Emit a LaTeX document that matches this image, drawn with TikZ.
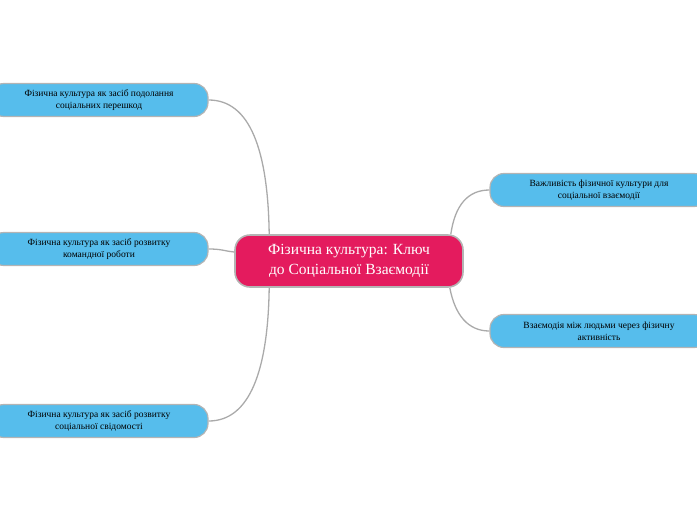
\documentclass[tikz,border=0pt]{standalone}
\usepackage{fontspec}
\setmainfont{Liberation Serif}
\definecolor{hubpink}{HTML}{E41B5E}
\definecolor{leafblue}{HTML}{56BDEC}
\definecolor{edgegray}{HTML}{AAAAAA}
\definecolor{rimgray}{HTML}{B4B4B4}
\begin{document}
\begin{tikzpicture}[x=1pt,y=-1pt,
  hub/.style={draw=rimgray, line width=1.6pt, fill=hubpink, rounded corners=15pt,
    minimum width=228pt, minimum height=52pt, align=center, text=white,
    font=\fontsize{15.5pt}{20pt}\selectfont, inner sep=0pt},
  leaf/.style={draw=rimgray, line width=1.2pt, fill=leafblue, rounded corners=14pt,
    minimum width=218pt, minimum height=33pt, align=center, text=black,
    font=\fontsize{9.5pt}{12pt}\selectfont, inner sep=0pt},
  link/.style={draw=edgegray, line width=1.3pt}]
\useasboundingbox (0,0) rectangle (697,520);
\node[hub] (c) at (349,261) {Фізична культура: Ключ\\до Соціальної Взаємодії};
\node[leaf] (l1) at (99,100) {Фізична культура як засіб подолання\\соціальних перешкод};
\node[leaf] (l2) at (99,249) {Фізична культура як засіб розвитку\\командної роботи};
\node[leaf] (l3) at (99,421) {Фізична культура як засіб розвитку\\соціальної свідомості};
\node[leaf] (r1) at (599,190) {Важливість фізичної культури для\\соціальної взаємодії};
\node[leaf] (r2) at (599,331) {Взаємодія між людьми через фізичну\\активність};
\draw[link] (l1.east) .. controls (250,100) and (268,150) .. ([xshift=35pt]c.north west);
\draw[link] (l2.east) .. controls (222,249) and (224,251) .. ([yshift=9pt]c.west);
\draw[link] (l3.east) .. controls (250,421) and (268,370) .. ([xshift=35pt]c.south west);
\draw[link] (r1.west) .. controls (468,190) and (455,205) .. ([xshift=-13pt]c.north east);
\draw[link] (r2.west) .. controls (468,331) and (455,315) .. ([xshift=-14pt]c.south east);
\end{tikzpicture}
\end{document}
